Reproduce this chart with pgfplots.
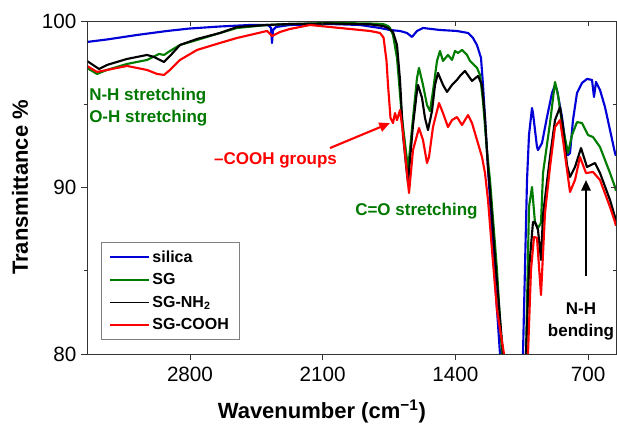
\documentclass[border=0pt]{standalone}
\usepackage{fontspec}
\setmainfont{Liberation Sans}
\usepackage{pgfplots}
\pgfplotsset{compat=1.18}
\usetikzlibrary{arrows.meta}
\definecolor{cblue}{RGB}{0,0,215}
\definecolor{cgreen}{RGB}{0,125,0}
\definecolor{cred}{RGB}{255,0,0}
\definecolor{tgreen}{RGB}{0,120,0}
\begin{document}
\begin{tikzpicture}
\begin{axis}[
  at={(0,0)}, anchor=south west,
  width=396.75pt, height=249.75pt, scale only axis,
  x dir=reverse,
  xmin=552.4, xmax=3343.4, ymin=80, ymax=100,
  xtick={700,1400,2100,2800}, ytick={80,90,100}, minor ytick={85,95},
  xtick pos=left, ytick pos=left, tick align=outside,
  major tick length=4.5pt, minor tick length=2.6pt,
  every tick/.style={black!80, line width=0.6pt},
  axis line style={black!80, line width=0.7pt},
  /pgf/number format/assume math mode=true,
  /pgf/number format/1000 sep={},
  tick label style={font=\fontsize{15.5}{18}\selectfont},
  xticklabel style={yshift=-2pt},
  xlabel={\textbf{Wavenumber (cm\textsuperscript{−1})}},
  ylabel={\textbf{Transmittance \%}},
  label style={font=\fontsize{16.5}{19}\selectfont},
  xlabel style={at={(axis description cs:0.444,-0.172)}, anchor=center},
  ylabel style={at={(axis description cs:-0.1267,0.5)}, anchor=center},
  clip mode=individual,
  legend style={at={(axis description cs:0.0265,0.336)}, anchor=north west,
    draw=black!50, line width=0.6pt, font=\bfseries\fontsize{12}{14}\selectfont,
    cells={anchor=west}, row sep=3pt, inner xsep=6pt, inner ysep=4pt},
  legend image code/.code={\draw[#1, line width=1.3pt] (0pt,0pt) -- (29pt,0pt);},
  every axis plot/.append style={line width=1.6pt, line join=round},
]
\addplot[cblue] coordinates {
(3343.4,98.74) (3237.9,98.89) (3079.6,99.16) (2921.3,99.40) (2800.0,99.55)
(2641.7,99.67) (2483.4,99.76) (2388.4,99.76) (2372.6,99.58) (2367.3,98.68)
(2362.0,99.46) (2346.2,99.64) (2272.4,99.76) (2061.3,99.82) (1902.9,99.76)
(1797.5,99.58) (1744.8,99.46) (1692.0,99.40) (1655.1,99.28) (1628.7,99.04)
(1602.3,99.40) (1570.7,99.58) (1481.0,99.46) (1391.3,99.40) (1333.2,99.28)
(1306.9,98.98) (1285.7,98.55) (1264.6,97.78) (1254.1,96.16) (1238.3,93.15)
(1227.7,91.17) (1217.2,89.25) (1190.8,84.44) (1164.4,80.0) (1100,60)
(1043.1,80.0) (1021.9,90.45) (1011.4,93.15) (995.6,94.77) (990.3,94.47)
(969.2,92.43) (963.9,92.25) (942.8,92.67) (916.4,94.23) (890.0,95.68)
(874.2,96.16) (863.7,95.86) (837.3,94.23) (821.5,92.85) (805.6,91.95)
(795.1,92.07) (779.3,94.05) (758.1,95.68) (731.8,96.28) (705.4,96.52)
(679.0,96.46) (668.5,95.44) (657.9,96.34) (636.8,95.86) (610.4,94.83)
(584.0,93.45) (557.7,92.07) (552.4,91.90)
};
\addlegendentry{silica}
\addplot[cgreen] coordinates {
(3343.4,97.18) (3290.6,96.82) (3237.9,97.06) (3132.4,97.42) (3026.8,97.66)
(2963.5,98.02) (2937.1,97.96) (2905.5,98.20) (2852.7,98.56) (2763.0,98.86)
(2641.7,99.28) (2552.0,99.58) (2393.7,99.76) (2272.4,99.82) (2061.3,99.88)
(1850.3,99.85) (1781.7,99.82) (1755.3,99.70) (1744.8,99.58) (1728.9,99.16)
(1707.8,97.78) (1681.4,94.17) (1655.1,91.65) (1649.8,91.05) (1623.4,94.17)
(1602.3,96.58) (1591.8,97.18) (1570.7,96.16) (1549.5,94.95) (1533.7,94.59)
(1517.9,95.79) (1496.8,97.60) (1481.0,98.20) (1465.1,97.60) (1438.8,97.96)
(1417.6,97.66) (1401.8,98.20) (1386.0,98.08) (1364.9,98.26) (1338.5,97.96)
(1322.7,97.60) (1285.7,97.18) (1269.9,96.76) (1254.1,95.19) (1233.0,92.19)
(1217.2,90.45) (1180.3,85.05) (1153.8,80.0) (1100,60) (1027.2,80.0)
(1011.4,88.83) (995.6,90.03) (979.7,87.87) (963.9,87.57) (948.1,87.87)
(937.5,90.87) (900.6,93.87) (874.2,96.34) (858.4,95.55) (837.3,93.87)
(805.6,92.07) (784.5,93.15) (758.1,93.93) (731.8,93.87) (700.1,93.15)
(673.7,93.03) (636.8,92.43) (584.0,90.87) (557.7,90.03) (552.4,89.80)
};
\addlegendentry{SG}
\addplot[black] coordinates {
(3343.4,97.60) (3280.1,97.12) (3237.9,97.36) (3132.4,97.72) (3026.8,97.96)
(2989.9,97.84) (2937.1,97.54) (2905.5,97.90) (2852.7,98.56) (2763.0,98.92)
(2641.7,99.28) (2552.0,99.64) (2393.7,99.76) (2272.4,99.82) (2061.3,99.85)
(1850.3,99.80) (1781.7,99.70) (1755.3,99.58) (1728.9,99.34) (1707.8,98.56)
(1692.0,96.46) (1676.2,93.15) (1660.3,91.35) (1649.8,90.27) (1623.4,93.75)
(1602.3,95.80) (1597.0,96.16) (1575.9,95.38) (1560.1,94.17) (1544.3,93.45)
(1523.2,94.59) (1507.3,96.16) (1491.5,96.88) (1465.1,96.16) (1444.0,95.74)
(1417.6,96.16) (1391.3,96.46) (1375.4,96.70) (1349.1,97.00) (1312.1,96.40)
(1280.5,96.70) (1259.4,96.16) (1243.5,94.17) (1227.7,91.17) (1217.2,89.85)
(1185.5,85.05) (1148.6,80.0) (1100,60) (1027.2,80.0) (1011.4,85.05)
(990.3,87.93) (979.7,87.93) (963.9,87.45) (948.1,85.65) (937.5,88.35)
(900.6,91.83) (874.2,94.05) (847.8,94.83) (832.0,93.63) (811.0,91.35)
(795.1,90.63) (768.7,91.23) (737.0,92.37) (705.4,91.23) (663.2,91.47)
(636.8,90.87) (584.0,89.25) (557.7,88.23) (552.4,88.00)
};
\addlegendentry{SG-NH\textsubscript{2}}
\addplot[cred] coordinates {
(3343.4,97.30) (3290.6,96.94) (3237.9,97.06) (3132.4,97.30) (3026.8,97.06)
(2974.1,96.82) (2937.1,96.76) (2905.5,97.06) (2852.7,97.66) (2763.0,98.26)
(2641.7,98.68) (2552.0,98.98) (2393.7,99.40) (2367.3,99.10) (2325.1,99.34)
(2272.4,99.52) (2166.8,99.76) (2061.3,99.64) (1955.8,99.52) (1850.3,99.40)
(1797.5,99.28) (1778.8,99.00) (1763.1,97.60) (1755.3,96.16) (1742.1,94.17)
(1728.9,93.87) (1718.4,94.47) (1707.8,94.05) (1692.0,94.65) (1676.2,93.27)
(1655.1,90.87) (1644.5,89.67) (1623.4,92.25) (1591.8,93.57) (1570.7,92.85)
(1549.5,91.47) (1539.0,91.83) (1517.9,93.63) (1486.2,95.07) (1465.1,94.47)
(1438.8,93.63) (1417.6,94.05) (1391.3,94.23) (1364.9,93.75) (1333.2,94.35)
(1312.1,93.87) (1285.7,92.85) (1259.4,91.83) (1243.5,90.87) (1227.7,89.25)
(1206.6,86.24) (1180.3,82.64) (1143.3,80.0) (1100,60) (1016.7,80.0)
(1000.9,85.05) (985.0,87.03) (969.2,86.97) (948.1,83.54) (927.0,88.47)
(900.6,91.23) (874.2,93.63) (847.8,94.05) (832.0,92.85) (795.1,89.73)
(768.7,90.45) (742.3,91.83) (710.7,90.87) (673.7,90.93) (636.8,90.45)
(584.0,88.83) (557.7,87.93) (552.4,87.70)
};
\addlegendentry{SG-COOH}
% annotations
\node[anchor=west, text=tgreen, font=\bfseries\fontsize{12.75}{15}\selectfont, inner sep=0pt] at (axis cs:3332.8,95.50) {N-H stretching};
\node[anchor=west, text=tgreen, font=\bfseries\fontsize{12.75}{15}\selectfont, inner sep=0pt] at (axis cs:3332.8,94.17) {O-H stretching};
\node[anchor=center, text=cred, font=\bfseries\fontsize{12.75}{15}\selectfont, inner sep=0pt] at (axis cs:2348.7,91.65) {–COOH groups};
\draw[cred, line width=1.6pt, -{Triangle[length=8pt,width=7pt]}] (axis cs:2061.3,92.37) -- (axis cs:1744.8,93.87);
\node[anchor=west, text=tgreen, font=\bfseries\fontsize{12.75}{15}\selectfont, inner sep=0pt] at (axis cs:1929.4,88.59) {C=O stretching};
\node[anchor=center, align=center, text=black, font=\bfseries\fontsize{12.75}{16.5}\selectfont, inner sep=0pt] at (axis cs:737.0,81.98) {N-H\\bending};
\draw[black, line width=1.6pt, -{Triangle[length=8pt,width=7pt]}] (axis cs:710.7,84.69) -- (axis cs:710.7,90.45);
\end{axis}
\begin{axis}[
  at={(0,0)}, anchor=south west,
  width=396.75pt, height=249.75pt, scale only axis,
  x dir=reverse,
  xmin=552.4, xmax=3343.4, ymin=80, ymax=100,
  xtick={700,1400,2100,2800}, ytick={80,90,100}, minor ytick={85,95},
  xtick pos=right, ytick pos=right, tick align=inside,
  major tick length=3.75pt, minor tick length=2.4pt,
  every tick/.style={black!80, line width=0.6pt},
  axis line style={black!80, line width=0.7pt},
  xticklabels={}, yticklabels={},
]
\end{axis}
\pgfresetboundingbox
\path (-65.25pt,-53.25pt) rectangle (397.5pt,265.5pt);
\end{tikzpicture}
\end{document}
